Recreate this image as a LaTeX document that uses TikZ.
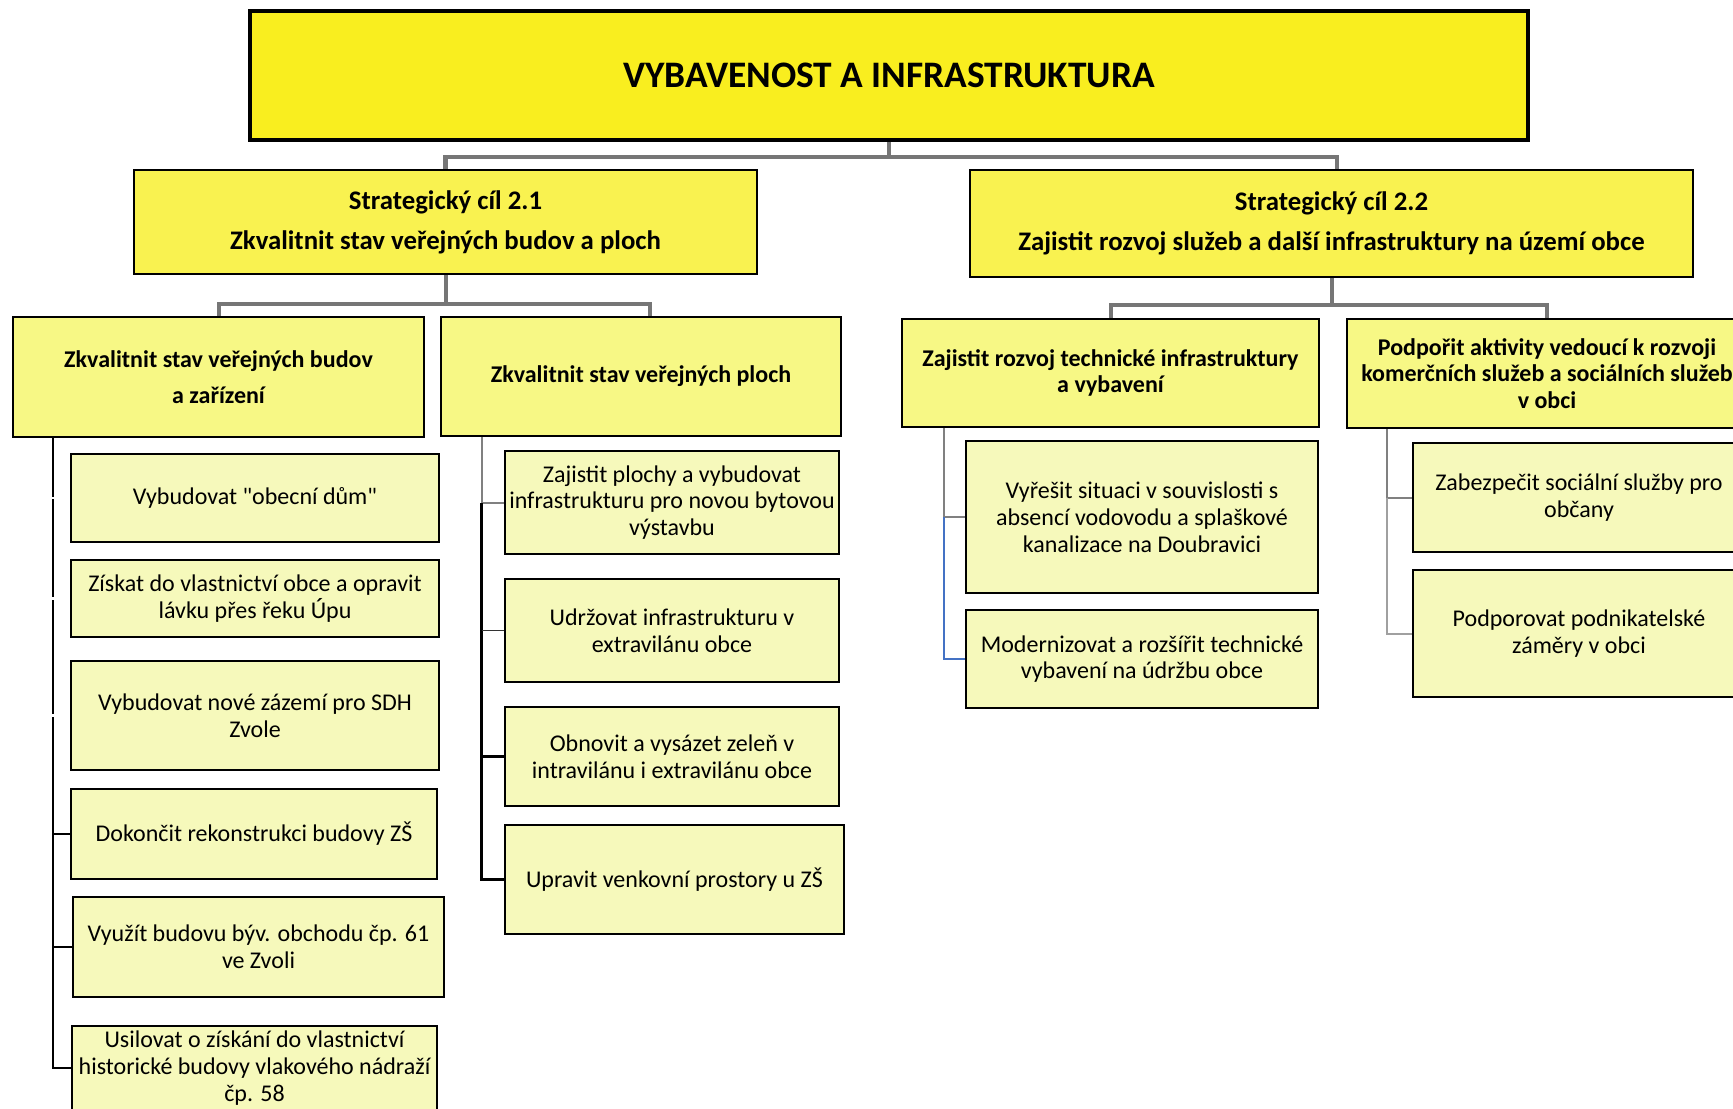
\documentclass[tikz,border=0pt]{standalone}
\usepackage{fontspec}
\setmainfont{Carlito}[Ligatures=TeXOff]
\usetikzlibrary{backgrounds,calc}
\definecolor{titleY}{RGB}{249,238,31}
\definecolor{scY}{RGB}{249,242,80}
\definecolor{lvY}{RGB}{247,248,133}
\definecolor{leafY}{RGB}{246,249,187}
\definecolor{conngray}{RGB}{118,118,118}
\definecolor{colgray}{RGB}{128,128,128}
\definecolor{lightcolgray}{RGB}{160,160,160}
\definecolor{connblue}{RGB}{68,114,196}
\tikzset{
  box/.style={draw=black, line width=1.25pt, inner sep=0pt, outer sep=0pt, align=center, text=black},
  titlebox/.style={box, fill=titleY, line width=1.75pt, font=\fontsize{18.7}{22}\selectfont\bfseries},
  scbox/.style={box, fill=scY, font=\fontsize{13.4}{20}\selectfont\bfseries},
  lvbox/.style={box, fill=lvY, font=\fontsize{12}{13.3}\selectfont\bfseries},
  leafbox/.style={box, fill=leafY, font=\fontsize{12}{13.4}\selectfont},
  connA/.style={draw=conngray, line width=2.25pt},
  connB/.style={draw=conngray, line width=2pt},
  colblack/.style={draw=black, line width=1.25pt},
  colthin/.style={draw=black!80, line width=0.8pt},
  colgrayline/.style={draw=colgray, line width=1pt},
  collight/.style={draw=lightcolgray, line width=1pt},
  colblue/.style={draw=connblue, line width=1pt},
  gapline/.style={draw=white, line width=1.2pt},
}
\begin{document}
\begin{tikzpicture}[x=0.5pt,y=-0.5pt]
\useasboundingbox (0,0) rectangle (1733,1108);
\clip (0,0) rectangle (1733,1108);

% top levels
\node[titlebox, minimum width=639pt, minimum height=64.5pt] (title) at (889,75.5) {VYBAVENOST A INFRASTRUKTURA};
\node[scbox, minimum width=311.5pt, minimum height=52pt] (sc1) at (445.5,222) {Strategický cíl 2.1\\Zkvalitnit stav veřejných budov a ploch};
\node[scbox, minimum width=361.5pt, minimum height=53.5pt] (sc2) at (1331.5,223.5) {Strategický cíl 2.2\\Zajistit rozvoj služeb a další infrastruktury na území obce};

\node[lvbox, minimum width=205.5pt, minimum height=60pt] (l1) at (218.5,377) {Zkvalitnit stav veřejných budov\\[4.7pt]a zařízení};
\node[lvbox, minimum width=200pt, minimum height=59.5pt] (l2) at (641,376.5) {Zkvalitnit stav veřejných ploch};
\node[lvbox, minimum width=208.5pt, minimum height=54pt] (r1) at (1110.5,373) {Zajistit rozvoj technické infrastruktury\\a vybavení};
\node[lvbox, minimum width=200pt, minimum height=54.5pt] (r2) at (1547,373.5) {Podpořit aktivity vedoucí k rozvoji\\komerčních služeb a sociálních služeb\\v obci};

% left column
\node[leafbox, minimum width=184pt, minimum height=44pt] (b1) at (255,498) {Vybudovat "obecní dům"};
\node[leafbox, minimum width=184pt, minimum height=38.5pt] (b2) at (255,598.5) {Získat do vlastnictví obce a opravit\\lávku přes řeku Úpu};
\node[leafbox, minimum width=184pt, minimum height=54.5pt] (b3) at (255,715.5) {Vybudovat nové zázemí pro SDH\\Zvole};
\node[leafbox, minimum width=183pt, minimum height=45pt] (b4) at (254,834) {Dokončit rekonstrukci budovy ZŠ};
\node[leafbox, minimum width=185.5pt, minimum height=50pt] (b5) at (258.5,947) {Využít budovu býv. obchodu čp. 61\\ve Zvoli};
\node[leafbox, minimum width=182.5pt, minimum height=42pt] (b6) at (254.5,1068) {Usilovat o získání do vlastnictví\\historické budovy vlakového nádraží\\čp. 58};

% second column
\node[leafbox, minimum width=167pt, minimum height=51.5pt] (c1) at (672,502.5) {Zajistit plochy a vybudovat\\infrastrukturu pro novou bytovou\\výstavbu};
\node[leafbox, minimum width=167pt, minimum height=51.5pt] (c2) at (672,630.5) {Udržovat infrastrukturu v\\extravilánu obce};
\node[leafbox, minimum width=167pt, minimum height=49.5pt] (c3) at (672,756.5) {Obnovit a vysázet zeleň v\\intravilánu i extravilánu obce};
\node[leafbox, minimum width=169.5pt, minimum height=54.5pt] (c4) at (674.5,879.5) {Upravit venkovní prostory u ZŠ};

% right columns
\node[leafbox, minimum width=176pt, minimum height=76pt] (d1) at (1142,517) {Vyřešit situaci v souvislosti s\\absencí vodovodu a splaškové\\kanalizace na Doubravici};
\node[leafbox, minimum width=176pt, minimum height=49pt] (d2) at (1142,659) {Modernizovat a rozšířit technické\\vybavení na údržbu obce};
\node[leafbox, minimum width=166pt, minimum height=54.5pt] (e1) at (1579,497.5) {Zabezpečit sociální služby pro\\občany};
\node[leafbox, minimum width=166pt, minimum height=63.5pt] (e2) at (1579,633.5) {Podporovat podnikatelské\\záměry v obci};

\begin{pgfonlayer}{background}
\fill[white] (0,0) rectangle (1733,1108);
% title to strategic goals
\coordinate (sc2top) at ([xshift=2.75pt]sc2.north);
\draw[connA] (title.south) -- (title.south |- 0,157);
\draw[connA] (sc1.north) |- (sc2top |- 0,157) -- (sc2top);
% strategic goals to level 2
\coordinate (l2top) at ([xshift=4.5pt]l2.north);
\draw[connB] (sc1.south) -- (sc1.south |- 0,304);
\draw[connB] (l1.north) |- (l2top |- 0,304) -- (l2top);
\draw[connB] (sc2.south) -- (sc2.south |- 0,305);
\draw[connB] (r1.north) |- (r2.north |- 0,305) -- (r2.north);
% column under l1
\coordinate (l1v) at ([xshift=20pt]l1.south west);
\draw[colblack] (l1v) |- (b6.west);
\draw[colblack] (l1v |- b4.west) -- (b4.west);
\draw[colblack] (l1v |- b5.west) -- (b5.west);
\draw[gapline] (l1v |- b1.west) ++(-3,0) -- (b1.west);
\draw[gapline] (l1v |- b2.west) ++(-3,0) -- (b2.west);
\draw[gapline] (l1v |- b3.west) ++(-3,0) -- (b3.west);
% column under l2
\coordinate (l2v) at ([xshift=20.25pt]l2.south west);
\draw[colgrayline] (l2v) |- (c1.west);
\draw[colblack] (l2v |- c1.west) |- (c4.west);
\draw[colthin] (l2v |- c2.west) -- (c2.west);
\draw[colblack] (l2v |- c3.west) -- (c3.west);
% column under r1
\coordinate (r1v) at ([xshift=21pt]r1.south west);
\draw[colgrayline] (r1v) |- (d1.west);
\draw[colblue] (r1v |- d1.west) |- (d2.west);
% column under r2
\coordinate (r2v) at ([xshift=20pt]r2.south west);
\draw[colgrayline] (r2v) |- (e1.west);
\draw[collight] (r2v |- e1.west) |- (e2.west);
\end{pgfonlayer}
\end{tikzpicture}
\end{document}
